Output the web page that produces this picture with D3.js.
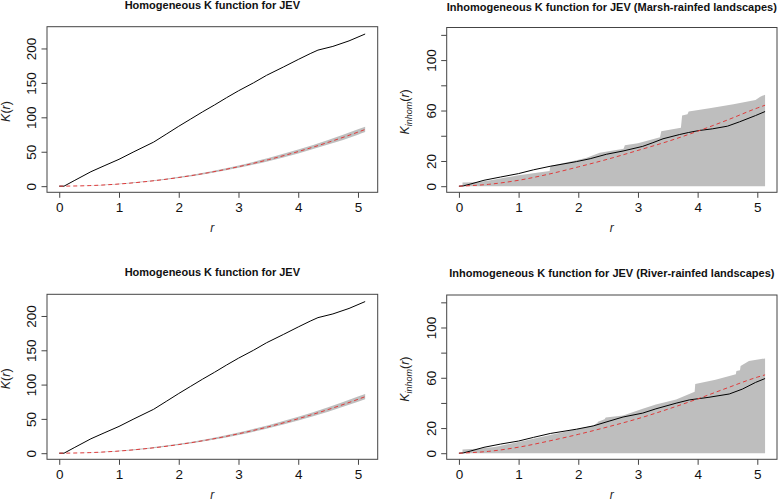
<!DOCTYPE html>
<html><head><meta charset="utf-8">
<script src="https://cdn.jsdelivr.net/npm/d3@7"></script>
<style>
body{margin:0;background:#fff}
svg{display:block;font-family:"Liberation Sans",Arial,sans-serif}
</style>
</head><body>
<svg id="c" width="780" height="503"></svg>
<script>
// ---------- DATA ----------
// Homogeneous K function (same in both left panels)
const homObsR   = [0, 0.08, 0.25, 0.53, 0.75, 1.0, 1.25, 1.58, 1.8, 2.0, 2.2, 2.4, 2.6, 2.8, 3.0, 3.25, 3.47, 3.75, 4.0, 4.2, 4.33, 4.58, 4.85, 5.12];
const homObs    = [0, 0, 8, 21, 29.5, 39, 50, 64, 76, 87, 97.5, 108, 118, 128.5, 138.5, 150, 161, 173, 184, 192.5, 197.6, 203, 211, 221];
const homTheoR  = [0, 0.5, 1, 1.5, 2, 2.5, 3, 3.5, 4, 4.5, 5, 5.12];
const homTheo   = [0, 0.79, 3.14, 7.07, 12.57, 19.63, 28.27, 38.48, 50.27, 63.62, 78.54, 82.35];
const homHi     = [0, 0.9, 3.5, 7.8, 13.6, 21.0, 30.1, 40.8, 53.1, 67.0, 82.5, 86.3];
const homLo     = [0, 0.7, 2.9, 6.6, 11.8, 18.5, 26.6, 36.3, 47.6, 60.4, 74.8, 78.6];

// Inhomogeneous K, Marsh-rainfed landscapes
const marshEnvR = [0.06, 0.3, 0.53, 1.0, 1.52, 1.53, 1.97, 2.14, 2.36, 2.76, 2.78, 3.0, 3.37, 3.39, 3.72, 3.74, 3.83, 3.85, 4.2, 4.6, 4.97, 5.05, 5.13];
const marshHi   = [3, 3.2, 4.7, 8.7, 12, 16, 20.5, 22.5, 26.5, 29.7, 32.4, 34, 38.9, 43.6, 46.3, 56, 57, 59.2, 61.8, 65, 68.4, 71, 72.6];
const marshObsR = [0, 0.08, 0.2, 0.42, 0.7, 1.0, 1.25, 1.53, 1.97, 2.2, 2.47, 2.75, 3.08, 3.25, 3.42, 3.7, 3.85, 4.03, 4.25, 4.5, 4.7, 4.97, 5.13];
const marshObs  = [0, 0.3, 1.8, 4.7, 7.3, 10, 13, 15.8, 19.5, 21.8, 25.3, 27.9, 31.6, 34.5, 37.6, 41, 42.6, 44.2, 45.5, 47.6, 51, 56, 59.2];
const inhomTheoR = [0, 0.5, 1, 1.5, 2, 2.5, 3, 3.5, 4, 4.5, 5, 5.13];
const marshTheo = [0, 1.5, 4.7, 9.5, 15.3, 21.5, 28.4, 35.5, 43.6, 52.5, 62, 64.2];

// Inhomogeneous K, River-rainfed landscapes
const riverEnvR = [0.06, 0.3, 0.6, 1.0, 1.53, 1.97, 2.25, 2.32, 2.33, 2.44, 2.46, 2.75, 3.08, 3.3, 3.64, 3.95, 3.96, 4.3, 4.64, 4.65, 4.71, 4.72, 4.86, 5.13];
const riverHi   = [3, 3.5, 5, 9, 14.4, 19, 22, 24, 25, 27, 28.5, 30, 35.3, 38.7, 42.7, 48.8, 55, 58.5, 62.8, 65.4, 66, 69.4, 73.3, 75.4];
const riverObsR = [0, 0.08, 0.2, 0.42, 0.7, 1.0, 1.25, 1.53, 1.97, 2.25, 2.53, 2.75, 3.08, 3.3, 3.64, 3.86, 4.19, 4.53, 4.75, 4.97, 5.13];
const riverObs  = [0, 0.3, 1.8, 4.7, 7.3, 9.7, 12.6, 15.7, 19.1, 21.7, 25.7, 28.8, 31.9, 35.3, 39.8, 42.4, 44.5, 47.1, 51, 56.3, 59.4];
const riverTheo = [0, 1.5, 4.8, 9.6, 15, 21, 27.5, 35, 43.2, 52, 60.5, 62.3];

// Axes
const xTicks = [0, 1, 2, 3, 4, 5];
const homYTicks = [0, 50, 100, 150, 200];
const inhomYTicks = [0, 20, 40, 60, 80, 100, 120];
const inhomYLabels = [0, 20, 60, 100];
const titles = [
  "Homogeneous K function for JEV",
  "Inhomogeneous K function for JEV (Marsh-rainfed landscapes)",
  "Homogeneous K function for JEV",
  "Inhomogeneous K function for JEV (River-rainfed landscapes)"
];

// ---------- DRAW ----------
const zip = (a, b) => a.map((v, i) => ({r: v, v: b[i]}));
const zip3 = (a, hi, lo) => a.map((v, i) => ({r: v, hi: hi[i], lo: lo ? lo[i] : 0}));

const panels = [
  {l:47, r:377.7, t:26.7, b:192.3, tb:9, title:titles[0], ylim:[0,222.7], yt:homYTicks, yl:homYTicks, inh:false,
   env: zip3(homTheoR, homHi, homLo), obs: zip(homObsR, homObs), theo: zip(homTheoR, homTheo), smooth:true},
  {l:446.7, r:777, t:27.5, b:192.3, tb:10.5, title:titles[1], ylim:[0,121], yt:inhomYTicks, yl:inhomYLabels, inh:true,
   env: zip3(marshEnvR, marshHi), obs: zip(marshObsR, marshObs), theo: zip(inhomTheoR, marshTheo)},
  {l:47, r:377.7, t:294.3, b:459.3, tb:276, title:titles[2], ylim:[0,222.7], yt:homYTicks, yl:homYTicks, inh:false,
   env: zip3(homTheoR, homHi, homLo), obs: zip(homObsR, homObs), theo: zip(homTheoR, homTheo), smooth:true},
  {l:446.7, r:777, t:295, b:459.3, tb:277, title:titles[3], ylim:[0,121], yt:inhomYTicks, yl:inhomYLabels, inh:true,
   env: zip3(riverEnvR, riverHi), obs: zip(riverObsR, riverObs), theo: zip(inhomTheoR, riverTheo)}
];

const svg = d3.select("#c");
const xlim = [0, 5.125];

panels.forEach(p => {
  const xw = xlim[1] - xlim[0], yw = p.ylim[1] - p.ylim[0];
  const x = d3.scaleLinear().domain([xlim[0] - 0.04*xw, xlim[1] + 0.04*xw]).range([p.l, p.r]);
  const y = d3.scaleLinear().domain([p.ylim[0] - 0.04*yw, p.ylim[1] + 0.04*yw]).range([p.b, p.t]);
  const g = svg.append("g");
  const curve = p.smooth ? d3.curveMonotoneX : d3.curveLinear;

  // envelope
  g.append("path").datum(p.env)
    .attr("d", d3.area().curve(curve).x(d => x(d.r)).y0(d => y(d.lo)).y1(d => y(d.hi)))
    .attr("fill", "#bebebe").attr("stroke", "none");
  // observed
  g.append("path").datum(p.obs)
    .attr("d", d3.line().curve(d3.curveLinear).x(d => x(d.r)).y(d => y(d.v)))
    .attr("fill", "none").attr("stroke", "#000").attr("stroke-width", 1);
  // theoretical
  g.append("path").datum(p.theo)
    .attr("d", d3.line().curve(d3.curveMonotoneX).x(d => x(d.r)).y(d => y(d.v)))
    .attr("fill", "none").attr("stroke", "#df3b3b").attr("stroke-width", 1).attr("stroke-dasharray", "4,3");

  // box
  g.append("rect").attr("x", p.l).attr("y", p.t).attr("width", p.r - p.l).attr("height", p.b - p.t)
    .attr("fill", "none").attr("stroke", "#444").attr("stroke-width", 1);

  // x axis
  const xa = g.append("g").attr("transform", `translate(0,${p.b})`)
    .call(d3.axisBottom(x).tickValues(xTicks).tickFormat(d3.format("d")).tickSize(5.5).tickPadding(4.5));
  xa.select(".domain").remove();
  xa.selectAll("line").attr("stroke", "#444");
  xa.selectAll("text").attr("font-size", 13.5).attr("fill", "#111").attr("font-family", "Liberation Sans, Arial, sans-serif");

  // y axis
  const ya = g.append("g").attr("transform", `translate(${p.l},0)`)
    .call(d3.axisLeft(y).tickValues(p.yt).tickSize(5.5)
      .tickFormat(d => p.yl.includes(d) ? d3.format("d")(d) : ""));
  ya.select(".domain").remove();
  ya.selectAll("line").attr("stroke", "#444");
  ya.selectAll("text")
    .attr("x", null).attr("dy", null)
    .attr("text-anchor", "middle")
    .attr("transform", "translate(-11,0) rotate(-90)")
    .attr("font-size", 13.5).attr("fill", "#111").attr("font-family", "Liberation Sans, Arial, sans-serif");

  // title
  g.append("text").attr("x", (p.l + p.r)/2).attr("y", p.tb)
    .attr("text-anchor", "middle").attr("font-weight", "bold").attr("font-size", 11).attr("fill", "#111")
    .text(p.title);

  // x label
  g.append("text").attr("x", (p.l + p.r)/2).attr("y", p.b + 40)
    .attr("text-anchor", "middle").attr("font-style", "italic").attr("font-size", 12).attr("fill", "#222")
    .text("r");

  // y label
  const yl = g.append("text")
    .attr("transform", `translate(${p.l - 37.5},${(p.t + p.b)/2 + 2}) rotate(-90)`)
    .attr("text-anchor", "middle").attr("font-size", 12.5).attr("fill", "#222");
  yl.append("tspan").attr("font-style", "italic").text("K");
  if (p.inh) {
    yl.append("tspan").attr("font-style", "italic").attr("font-size", 9).attr("dy", 3).text("inhom");
    yl.append("tspan").attr("dy", -3).text("(");
  } else {
    yl.append("tspan").text("(");
  }
  yl.append("tspan").attr("font-style", "italic").text("r");
  yl.append("tspan").text(")");
});
</script>
</body></html>
